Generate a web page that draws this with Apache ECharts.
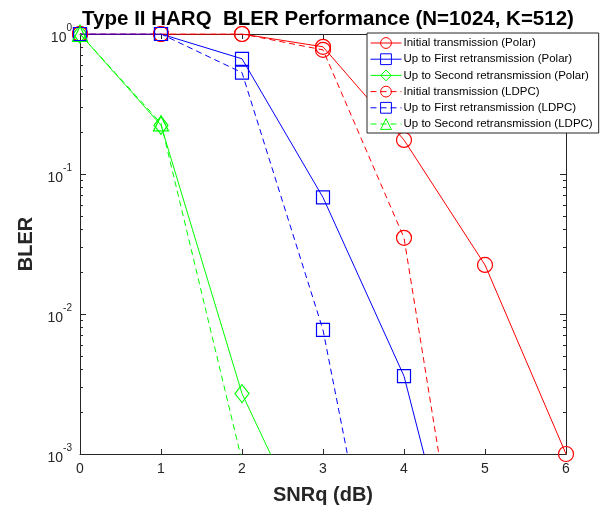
<!DOCTYPE html>
<html><head><meta charset="utf-8">
<script src="https://cdn.jsdelivr.net/npm/echarts@6/dist/echarts.min.js"></script>
<style>html,body{margin:0;padding:0;background:#fff}#c{width:608px;height:510px}</style>
</head><body><div id="c"></div>
<script>
// ---- data ----
const snr = [0, 1, 2, 3, 4, 5, 6];
const polarInit   = [1, 1, 1, 0.81, 0.175, 0.0224, 0.001];
const polarFirst  = [1, 1, 0.665, 0.068, 0.0036, 2e-5];
const polarSecond = [1, 0.223, 0.0027, 1.6e-4];
const ldpcInit    = [1, 1, 1, 0.77, 0.035, 9e-6];
const ldpcFirst   = [1, 1, 0.53, 0.0077, 8.7e-6];
const ldpcSecond  = [1, 0.23, 8.9e-4];
const seriesNames = [
  'Initial transmission (Polar)',
  'Up to First retransmission (Polar)',
  'Up to Second retransmission (Polar)',
  'Initial transmission (LDPC)',
  'Up to First retransmission (LDPC)',
  'Up to Second retransmission (LDPC)'
];
const xTicks = [0, 1, 2, 3, 4, 5, 6];
const yMajor = [0.001, 0.01, 0.1, 1];
const yMinor = [0.002,0.003,0.004,0.005,0.006,0.007,0.008,0.009,
                0.02,0.03,0.04,0.05,0.06,0.07,0.08,0.09,
                0.2,0.3,0.4,0.5,0.6,0.7,0.8,0.9];

const RED = '#ff0000', BLUE = '#0000ff', GREEN = '#00ff00';
const AX = '#262626';
const FONT = 'Liberation Sans, Arial, Helvetica, sans-serif';

function pairs(vals) { return vals.map((v, i) => [snr[i], v]); }

function mk(name, vals, color, symbol, size, dashed) {
  return {
    name: name, type: 'line', data: pairs(vals), clip: true,
    symbol: symbol, symbolSize: size, showAllSymbol: true,
    xAxisIndex: 0, yAxisIndex: 0,
    lineStyle: { color: color, width: 1, type: dashed ? [6, 4] : 'solid' },
    itemStyle: { color: 'rgba(0,0,0,0)', borderColor: color, borderWidth: 1.2 },
    emphasis: { disabled: true }, animation: false
  };
}

const chart = echarts.init(document.getElementById('c'), null, { renderer: 'canvas' });

const gridBox = { left: 80, right: 42, top: 34, bottom: 52 };
const supFmt = v => '{b|10}{s|' + Math.round(Math.log10(v)) + '}';

const yBase = (pos, showLabel, ticks, len) => ({
  type: 'log', min: 0.001, max: 1, logBase: 10, position: pos,
  axisLine: { show: true, lineStyle: { color: AX, width: 1 } },
  axisTick: { show: true, inside: true, length: len, lineStyle: { color: AX }, customValues: ticks },
  axisLabel: showLabel ? {
    show: true, customValues: yMajor, formatter: supFmt, margin: 8,
    rich: { b: { fontSize: 14, color: AX, fontFamily: FONT, padding: [8, 0, 0, 0] },
            s: { fontSize: 10, color: AX, fontFamily: FONT, verticalAlign: 'top', padding: [0, 0, 4, 0] } }
  } : { show: false },
  splitLine: { show: false }
});

chart.setOption({
  animation: false,
  title: {
    text: 'Type II HARQ  BLER Performance (N=1024, K=512)',
    left: 323, top: 4, textAlign: 'center',
    textStyle: { fontSize: 20.5, fontWeight: 'bold', color: '#000', fontFamily: FONT }
  },
  legend: {
    orient: 'vertical', left: 367, top: 33,
    backgroundColor: '#fff', borderColor: AX, borderWidth: 1,
    padding: [4, 6, 3, 3], itemGap: 4.2, itemWidth: 31, itemHeight: 13.5,
    lineStyle: { width: 1 }, itemStyle: { borderWidth: 1 },
    textStyle: { fontSize: 11.5, color: '#000', fontFamily: FONT, padding: [0, 0, 0, -3] },
    data: seriesNames
  },
  grid: gridBox,
  xAxis: [
    { type: 'value', min: 0, max: 6, interval: 1, position: 'bottom',
      axisLine: { show: true, onZero: false, lineStyle: { color: AX } },
      axisTick: { show: true, inside: true, length: 5, lineStyle: { color: AX }, customValues: xTicks },
      axisLabel: { show: true, fontSize: 14, color: AX, fontFamily: FONT, margin: 8, customValues: xTicks },
      splitLine: { show: false },
      name: 'SNRq (dB)', nameLocation: 'middle', nameGap: 31,
      nameTextStyle: { fontSize: 20, fontWeight: 'bold', color: AX, fontFamily: FONT } },
    { type: 'value', min: 0, max: 6, interval: 1, position: 'top',
      axisLine: { show: true, onZero: false, lineStyle: { color: AX } },
      axisTick: { show: true, inside: true, length: 5, lineStyle: { color: AX } },
      axisLabel: { show: false }, splitLine: { show: false } }
  ],
  yAxis: [
    Object.assign(yBase('left', true, yMajor, 6), {
      name: 'BLER', nameLocation: 'middle', nameGap: 39,
      nameTextStyle: { fontSize: 20, fontWeight: 'bold', color: AX, fontFamily: FONT } }),
    yBase('left', false, yMinor, 3),
    yBase('right', false, yMajor, 6),
    yBase('right', false, yMinor, 3)
  ],
  series: [
    mk(seriesNames[0], polarInit, RED, 'circle', 15, false),
    mk(seriesNames[1], polarFirst, BLUE, 'rect', 13, false),
    mk(seriesNames[2], polarSecond, GREEN, 'diamond', [14, 18], false),
    mk(seriesNames[3], ldpcInit, RED, 'circle', 15, true),
    mk(seriesNames[4], ldpcFirst, BLUE, 'rect', 13, true),
    mk(seriesNames[5], ldpcSecond, GREEN, 'triangle', 15, true)
  ]
});
</script></body></html>
